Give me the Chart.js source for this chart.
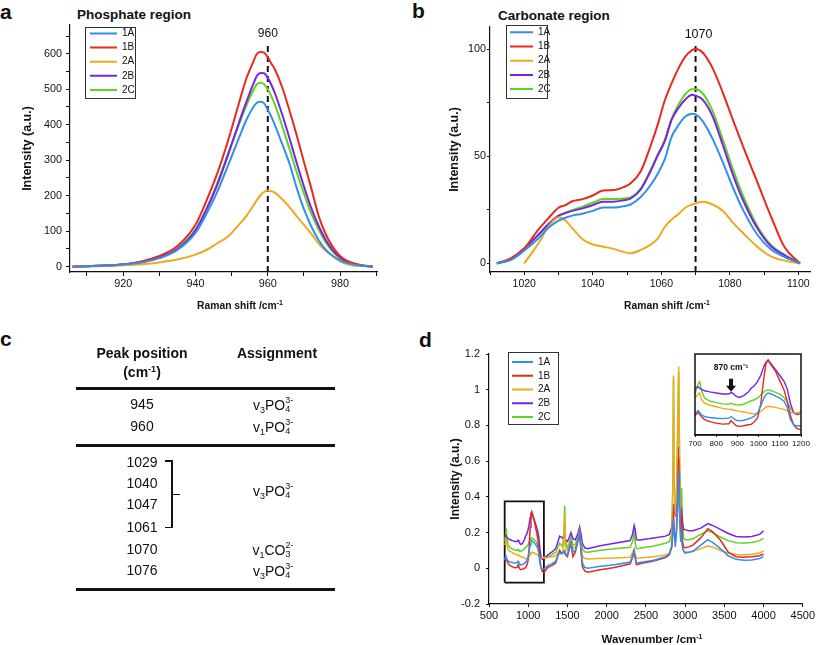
<!DOCTYPE html>
<html>
<head>
<meta charset="utf-8">
<script src="https://cdn.jsdelivr.net/npm/chart.js"></script>
<style>
  body { margin: 0; background: #fff; font-family: 'Liberation Sans', Arial, sans-serif; color: #111; }
  #page { position: relative; width: 817px; height: 645px; overflow: hidden; }
  .cbox { position: absolute; }
  .letter { position: absolute; font-weight: bold; font-size: 21px; line-height: 1; }
  .ptitle { position: absolute; font-weight: bold; font-size: 13.5px; line-height: 1; white-space: nowrap; }
  .xt { position: absolute; transform: translate(-50%, -50%); font-weight: bold; font-size: 10.3px; line-height: 1; white-space: nowrap; }
  .xt sup { font-size: 7px; vertical-align: 4px; }
  .tc { position: absolute; transform: translate(-50%, -50%); font-size: 14px; line-height: 1; white-space: nowrap; }
  .th { font-weight: bold; }
  .th sup { font-size: 9px; vertical-align: 5px; }
  .rule { position: absolute; left: 76px; width: 259px; height: 3px; background: #111; }
  .brk { position: absolute; background: #111; }
  .sb { font-size: 9px; position: relative; top: 3px; }
  .ss { display: inline-block; position: relative; width: 10px; height: 14px; }
  .ss .up { position: absolute; left: 0; top: 0px; font-size: 9px; line-height: 1; }
  .ss .dn { position: absolute; left: 0; top: 9px; font-size: 9px; line-height: 1; }
</style>
</head>
<body>
<div id="page">
  <div class="letter" style="left:0;top:1px">a</div>
  <div class="ptitle" style="left:77px;top:8px">Phosphate region</div>
  <div class="cbox" style="left:0;top:0;width:405px;height:315px"><canvas id="chartA"></canvas></div>
  <div class="xt" style="left:240px;top:305px">Raman shift /cm<sup>-1</sup></div>

  <div class="letter" style="left:412px;top:0">b</div>
  <div class="ptitle" style="left:498px;top:9px">Carbonate region</div>
  <div class="cbox" style="left:410px;top:0;width:407px;height:315px"><canvas id="chartB"></canvas></div>
  <div class="xt" style="left:667px;top:305px">Raman shift /cm<sup>-1</sup></div>

  <div class="letter" style="left:0;top:328px">c</div>
  <div id="tableC"></div>

  <div class="letter" style="left:419px;top:329px">d</div>
  <div class="cbox" style="left:410px;top:320px;width:407px;height:325px"><canvas id="chartD"></canvas></div>
  <div class="cbox" style="left:685px;top:350px;width:127px;height:100px"><canvas id="chartInset"></canvas></div>
  <div class="xt" style="left:652px;top:639px;font-size:11.5px">Wavenumber /cm<sup>-1</sup></div>
</div>

<script>
Chart.defaults.font.family = "'Liberation Sans', Arial, sans-serif";
Chart.defaults.color = '#111';
Chart.defaults.animation = false;

const seriesNames = ['1A', '1B', '2A', '2B', '2C'];
const seriesColors = ['#2f8ff0', '#e8291c', '#f2a81c', '#7a22e6', '#5fd41f'];

// a - phosphate region
const phosShift = [906, 910, 915, 920, 925, 930, 935, 940, 943, 946, 949, 952, 954, 956, 957, 958, 959, 960, 961, 962, 964, 966, 968, 970, 972, 974, 976, 978, 980, 982, 985, 989];
const phos1A = [0, 1, 3, 6, 12, 24, 47, 95, 148, 210, 285, 362, 412, 450, 462, 465, 460, 442, 422, 398, 345, 290, 222, 162, 114, 76, 48, 30, 18, 10, 4, 0];
const phos1B = [0, 1, 3, 7, 15, 30, 58, 118, 185, 262, 355, 460, 528, 578, 600, 605, 603, 590, 572, 555, 505, 440, 370, 295, 222, 145, 92, 55, 30, 16, 6, 0];
const phos2A = [0, 1, 2, 4, 7, 12, 20, 34, 47, 66, 85, 118, 142, 172, 188, 202, 211, 215, 213, 208, 190, 168, 142, 118, 93, 66, 45, 29, 15, 7, 1, null];
const phos2B = [0, 1, 3, 6, 13, 26, 50, 102, 160, 230, 315, 405, 462, 515, 538, 546, 545, 532, 512, 488, 428, 362, 292, 226, 166, 116, 76, 46, 26, 14, 5, 0];
const phos2C = [0, 1, 3, 6, 13, 26, 51, 105, 163, 235, 318, 400, 452, 497, 514, 518, 514, 500, 480, 456, 396, 332, 266, 206, 151, 106, 69, 42, 24, 13, 4, 0];
const phosPeak = 960;

// b - carbonate region
const carbShift = [1012, 1016, 1020, 1024, 1027, 1030, 1032, 1034, 1037, 1040, 1043, 1046, 1049, 1051, 1054, 1057, 1059, 1061, 1063, 1065, 1067, 1069, 1070, 1072, 1075, 1078, 1081, 1084, 1088, 1092, 1096, 1100.5];
const carb1A = [0, 1.5, 6, 11.5, 16.5, 20, 21.3, 22.3, 23.2, 24.5, 26.1, 26.1, 26.7, 27.5, 31, 36.8, 42, 48.5, 59, 64.5, 68.5, 69.8, 69.5, 66.5, 58, 47, 35, 24.5, 13.5, 6.5, 3, 0];
const carb1B = [0, 2.3, 7, 15.5, 21, 26, 27.2, 29, 30, 31.7, 34, 34.2, 35.6, 37.3, 43, 55.5, 65, 76, 84, 91, 96.5, 99.5, 100, 98.5, 91, 79.5, 66.5, 54, 38, 22, 7.5, 0];
const carb2A = [null, null, 0, 9, 17, 21.5, 20, 16.5, 11.3, 8.8, 7.8, 6.8, 5.4, 4.7, 6.3, 8.9, 11.7, 17, 20.5, 23, 26, 27.5, 28, 28.8, 27.5, 24.5, 18.8, 14, 7.8, 3.3, 1.3, 0];
const carb2B = [0, 1.9, 7, 13.2, 18.3, 22.3, 23.5, 24.5, 25.7, 27.2, 28.8, 28.8, 29.5, 30.2, 34.5, 43.5, 50.5, 57, 67, 72.5, 76.5, 78.7, 78.3, 76.5, 68.5, 55, 41, 29, 16.5, 8, 3.8, 0];
const carb2C = [0, 1.9, 6.8, 13, 18, 22, 23.6, 24.8, 26.5, 28.3, 30, 30, 30.3, 30.8, 35, 44, 51, 57.5, 67.5, 74, 79, 81.3, 81.3, 79.5, 71, 57.5, 43.5, 31, 17.5, 8.6, 4, 0];
const carbPeak = 1070;

// c - peak assignment table
const tablePeaks = ['945', '960', '1029', '1040', '1047', '1061', '1070', '1076'];
const tableModes = [['3', 'PO', '4', '3-'], ['1', 'PO', '4', '3-'], ['3', 'PO', '4', '3-'], ['1', 'CO', '3', '2-'], ['3', 'PO', '4', '3-']];

// d - full spectra
const waveNum = [700, 715, 722, 730, 745, 770, 800, 830, 860, 870, 880, 895, 910, 930, 950, 965, 980, 995, 1010, 1025, 1035, 1045, 1060, 1080, 1100, 1120, 1135, 1150, 1165, 1180, 1200,
  1250, 1300, 1350, 1380, 1400, 1420, 1440, 1455, 1465, 1475, 1500, 1520, 1545, 1570, 1600, 1630, 1655, 1670, 1690, 1720,
  1760, 1900, 2100, 2300, 2330, 2350, 2362, 2380, 2420, 2600, 2750, 2800, 2830, 2845, 2852, 2860, 2875, 2890, 2905, 2918,
  2930, 2945, 2955, 2965, 2980, 3000, 3050, 3100, 3200, 3290, 3350, 3450, 3550, 3650, 3750, 3850, 3950, 4000];
const spec1A = [0.05, 0.07, 0.06, 0.05, 0.04, 0.035, 0.032, 0.03, 0.032, 0.04, 0.033, 0.022, 0.019, 0.022, 0.028, 0.033, 0.042, 0.058, 0.09, 0.13, 0.148, 0.155, 0.15, 0.14, 0.13, 0.115, 0.085, 0.025, 0.0, -0.006, -0.005,
  0.015, 0.025, 0.04, 0.075, 0.085, 0.08, 0.085, 0.095, 0.1, 0.08, 0.075, 0.11, 0.145, 0.09, 0.1, 0.15, 0.2, 0.12, 0.03, 0.005,
  0.0, 0.01, 0.02, 0.035, 0.07, 0.098, 0.07, 0.03, 0.032, 0.045, 0.065, 0.08, 0.13, 0.2, 0.28, 0.22, 0.12, 0.2, 0.35, 0.55,
  0.3, 0.15, 0.18, 0.12, 0.095, 0.085, 0.09, 0.095, 0.13, 0.16, 0.145, 0.11, 0.07, 0.05, 0.045, 0.047, 0.055, 0.065];
const spec1B = [0.045, 0.06, 0.05, 0.04, 0.025, 0.015, 0.008, 0.003, 0.005, 0.02, 0.01, -0.005, -0.008, -0.005, 0.0, 0.002, 0.015, 0.035, 0.1, 0.23, 0.3, 0.315, 0.29, 0.26, 0.215, 0.17, 0.115, 0.045, 0.0, -0.018, -0.025,
  0.005, 0.015, 0.03, 0.07, 0.1, 0.085, 0.085, 0.09, 0.095, 0.075, 0.065, 0.1, 0.14, 0.065, 0.09, 0.145, 0.195, 0.11, 0.01, -0.015,
  -0.022, -0.01, 0.005, 0.025, 0.06, 0.092, 0.06, 0.02, 0.025, 0.04, 0.06, 0.075, 0.12, 0.2, 0.32, 0.22, 0.14, 0.22, 0.4, 0.62,
  0.32, 0.15, 0.3, 0.16, 0.12, 0.115, 0.12, 0.13, 0.17, 0.222, 0.205, 0.158, 0.09, 0.065, 0.062, 0.064, 0.07, 0.08];
const spec2A = [0.13, 0.15, 0.155, 0.125, 0.105, 0.095, 0.088, 0.08, 0.075, 0.076, 0.072, 0.068, 0.065, 0.062, 0.058, 0.055, 0.052, 0.055, 0.065, 0.078, 0.086, 0.09, 0.088, 0.085, 0.08, 0.075, 0.068, 0.06, 0.057, 0.057, 0.058,
  0.06, 0.065, 0.07, 0.085, 0.1, 0.09, 0.085, 0.15, 0.3, 0.12, 0.1, 0.12, 0.155, 0.11, 0.12, 0.16, 0.21, 0.15, 0.07, 0.055,
  0.052, 0.055, 0.058, 0.062, 0.09, 0.11, 0.08, 0.056, 0.057, 0.065, 0.075, 0.085, 0.12, 0.5, 1.08, 0.5, 0.3, 0.38, 0.8, 1.13,
  0.55, 0.2, 0.18, 0.13, 0.1, 0.092, 0.09, 0.095, 0.11, 0.125, 0.12, 0.1, 0.085, 0.077, 0.076, 0.078, 0.085, 0.098];
const spec2B = [0.178, 0.185, 0.178, 0.172, 0.166, 0.16, 0.155, 0.15, 0.15, 0.158, 0.152, 0.138, 0.133, 0.142, 0.158, 0.178, 0.19, 0.21, 0.24, 0.285, 0.305, 0.315, 0.295, 0.268, 0.24, 0.212, 0.175, 0.105, 0.058, 0.05, 0.055,
  0.075, 0.09, 0.11, 0.15, 0.18, 0.175, 0.17, 0.18, 0.175, 0.16, 0.15, 0.17, 0.2, 0.165, 0.16, 0.19, 0.23, 0.2, 0.14, 0.115,
  0.11, 0.125, 0.14, 0.155, 0.19, 0.24, 0.22, 0.16, 0.158, 0.17, 0.18, 0.19, 0.23, 0.3, 0.36, 0.32, 0.3, 0.33, 0.45, 0.68,
  0.45, 0.3, 0.32, 0.26, 0.22, 0.215, 0.21, 0.21, 0.225, 0.25, 0.24, 0.218, 0.195, 0.178, 0.175, 0.178, 0.19, 0.21];
const spec2C = [0.15, 0.2, 0.21, 0.17, 0.13, 0.115, 0.108, 0.102, 0.1, 0.106, 0.1, 0.097, 0.096, 0.1, 0.11, 0.117, 0.122, 0.13, 0.145, 0.16, 0.168, 0.17, 0.166, 0.158, 0.15, 0.132, 0.11, 0.08, 0.06, 0.058, 0.063,
  0.065, 0.075, 0.09, 0.12, 0.14, 0.13, 0.12, 0.2, 0.35, 0.15, 0.115, 0.14, 0.175, 0.13, 0.135, 0.17, 0.225, 0.17, 0.11, 0.092,
  0.09, 0.1, 0.11, 0.118, 0.15, 0.2, 0.15, 0.11, 0.112, 0.125, 0.14, 0.15, 0.2, 0.5, 1.06, 0.5, 0.32, 0.4, 0.75, 1.1,
  0.6, 0.35, 0.45, 0.3, 0.17, 0.16, 0.16, 0.165, 0.19, 0.21, 0.2, 0.175, 0.155, 0.143, 0.142, 0.145, 0.155, 0.168];
const zoomRange = [700, 1200, -0.08, 0.375];
const carbonateBand = 870;

// ---------- helpers ----------
function seriesSets(xs, ys, width, smooth) {
  return ys.map((vals, i) => ({
    label: seriesNames[i],
    data: xs.map((x, j) => ({ x: x, y: vals[j] })),
    borderColor: seriesColors[i],
    backgroundColor: seriesColors[i],
    borderWidth: width,
    pointRadius: 0,
    cubicInterpolationMode: smooth ? 'monotone' : 'default',
    tension: 0
  }));
}

function guideSet(points, width, dash) {
  return { label: 'guide', data: points, borderColor: '#111', backgroundColor: '#111',
           borderWidth: width, borderDash: dash || [], pointRadius: 0, tension: 0 };
}

function axis(o) {
  return {
    type: 'linear',
    display: o.display !== false,
    position: o.pos,
    min: o.min, max: o.max,
    border: { display: true, color: '#111', width: 1.2 },
    grid: { display: true, drawOnChartArea: false, drawTicks: true, tickLength: o.tick, tickColor: '#111', tickWidth: 1 },
    ticks: {
      stepSize: o.step, includeBounds: false, autoSkip: false, maxRotation: 0, minRotation: 0,
      padding: o.pad, font: { size: o.fs }, color: '#111',
      callback: o.label
    },
    title: o.title ? { display: true, text: o.title, font: { size: o.tfs, weight: 'bold' }, color: '#111', padding: { top: o.tpad, bottom: 0 } } : { display: false },
    afterFit: s => { if (o.pos === 'bottom') s.height = o.size; else s.width = o.size; }
  };
}

function legendOpts(lineW, lp) {
  return {
    display: true,
    position: 'chartArea',
    align: 'start',
    labels: {
      usePointStyle: true, pointStyle: 'line', pointStyleWidth: lineW,
      padding: lp, color: '#111', font: { size: 10 },
      filter: item => item.datasetIndex < seriesNames.length,
      generateLabels: chart => Chart.defaults.plugins.legend.labels.generateLabels(chart)
        .map(l => Object.assign(l, { lineWidth: 2 }))
    }
  };
}

// legend placed inside the plot with a thin frame around it
const legendFrame = {
  id: 'legendFrame',
  afterLayout(chart, args, o) {
    const lg = chart.legend;
    if (!lg || o.dx === undefined) return;
    const ca = chart.chartArea;
    const lp = lg.options.labels.padding;
    lg.left = ca.left + o.dx + o.ix - lp;
    lg.top = ca.top + o.dy + o.iy - lp;
    lg.right = ca.right;
    lg.bottom = ca.bottom;
  },
  afterDraw(chart, args, o) {
    if (o.dx === undefined) return;
    const ca = chart.chartArea, ctx = chart.ctx;
    ctx.save();
    ctx.strokeStyle = '#333';
    ctx.lineWidth = 1;
    ctx.strokeRect(Math.round(ca.left + o.dx) + 0.5, Math.round(ca.top + o.dy) + 0.5, o.w, o.h);
    ctx.restore();
  }
};

// text labels (and optional down arrow) anchored at data values
const markText = {
  id: 'markText',
  afterDatasetsDraw(chart, args, o) {
    if (!o.items) return;
    const ctx = chart.ctx, xs = chart.scales.x, ys = chart.scales.y;
    o.items.forEach(m => {
      const px = xs.getPixelForValue(m.x);
      ctx.save();
      ctx.fillStyle = '#111';
      ctx.font = m.font;
      ctx.textAlign = 'center';
      ctx.textBaseline = 'middle';
      ctx.fillText(m.text, px + (m.dx || 0), ys.getPixelForValue(m.y));
      if (m.arrow) {
        const y0 = ys.getPixelForValue(m.arrow[0]), y1 = ys.getPixelForValue(m.arrow[1]);
        const hh = 6, hw = 5, sw = 2;
        ctx.beginPath();
        ctx.moveTo(px - sw, y0); ctx.lineTo(px + sw, y0); ctx.lineTo(px + sw, y1 - hh);
        ctx.lineTo(px + hw, y1 - hh); ctx.lineTo(px, y1); ctx.lineTo(px - hw, y1 - hh);
        ctx.lineTo(px - sw, y1 - hh); ctx.closePath(); ctx.fill();
      }
      ctx.restore();
    });
  }
};

const chartFrame = {
  id: 'chartFrame',
  afterDraw(chart, args, o) {
    if (!o.on) return;
    const ca = chart.chartArea, ctx = chart.ctx;
    ctx.save();
    ctx.strokeStyle = '#111';
    ctx.lineWidth = 1.5;
    ctx.strokeRect(ca.left, ca.top, ca.right - ca.left, ca.bottom - ca.top);
    ctx.restore();
  }
};

Chart.register(legendFrame, markText, chartFrame);

// ---------- a ----------
new Chart(document.getElementById('chartA'), {
  type: 'line',
  data: {
    datasets: seriesSets(phosShift, [phos1A, phos1B, phos2A, phos2B, phos2C], 2, true)
      .concat([guideSet([{ x: phosPeak, y: -15 }, { x: phosPeak, y: 628 }], 2, [6, 4])])
  },
  options: {
    responsive: true, maintainAspectRatio: false,
    layout: { padding: { left: 0, top: 25, right: 28, bottom: 0 } },
    scales: {
      x: axis({ pos: 'bottom', min: 905.3, max: 990.2, step: 10, tick: 4, pad: 2, fs: 10.8, size: 43,
                label: v => (v % 20 === 0 ? v : '') }),
      y: axis({ pos: 'left', min: -15, max: 681, step: 50, tick: 4, pad: 4, fs: 10.8, size: 70,
                title: 'Intensity (a.u.)', tfs: 12.5, tpad: 20, label: v => (v % 100 === 0 ? v : '') })
    },
    plugins: {
      legend: legendOpts(27, 4.1),
      tooltip: { enabled: false },
      legendFrame: { dx: 15, dy: 2, ix: 5, iy: 1.5, w: 50, h: 71 },
      markText: { items: [{ x: phosPeak, y: 656, text: String(phosPeak), font: "12px 'Liberation Sans', Arial, sans-serif" }] }
    }
  }
});

// ---------- b ----------
new Chart(document.getElementById('chartB'), {
  type: 'line',
  data: {
    datasets: seriesSets(carbShift, [carb1A, carb1B, carb2A, carb2B, carb2C], 2, true)
      .concat([guideSet([{ x: carbPeak, y: -4 }, { x: carbPeak, y: 103.3 }], 2, [6, 4])])
  },
  options: {
    responsive: true, maintainAspectRatio: false,
    layout: { padding: { left: 0, top: 27, right: 7, bottom: 0 } },
    scales: {
      x: axis({ pos: 'bottom', min: 1010, max: 1103.4, step: 10, tick: 3, pad: 3, fs: 10.5, size: 43,
                label: v => (v % 20 === 0 ? v : '') }),
      y: axis({ pos: 'left', min: -4, max: 110.3, step: 25, tick: 3, pad: 1, fs: 10.8, size: 80,
                title: 'Intensity (a.u.)', tfs: 12.5, tpad: 37.5, label: v => (v % 50 === 0 ? v : '') })
    },
    plugins: {
      legend: legendOpts(23, 4.2),
      tooltip: { enabled: false },
      legendFrame: { dx: 16, dy: -2, ix: 4, iy: 2.3, w: 41, h: 73 },
      markText: { items: [{ x: carbPeak, y: 107, dx: 3, text: String(carbPeak), font: "12.5px 'Liberation Sans', Arial, sans-serif" }] }
    }
  }
});

// ---------- c ----------
(function buildTable() {
  const root = document.getElementById('tableC');
  const peakY = [404, 426, 462, 483, 504, 527, 549, 570];
  const modeY = [404, 426, 490, 549, 570];
  let html = '';
  html += '<div class="tc th" style="left:142px;top:353px">Peak position</div>';
  html += '<div class="tc th" style="left:142px;top:372px">(cm<sup>-1</sup>)</div>';
  html += '<div class="tc th" style="left:277px;top:353px">Assignment</div>';
  [387, 444, 588].forEach(y => { html += '<div class="rule" style="top:' + y + 'px"></div>'; });
  tablePeaks.forEach((p, i) => {
    html += '<div class="tc" style="left:142px;top:' + peakY[i] + 'px">' + p + '</div>';
  });
  tableModes.forEach((m, i) => {
    html += '<div class="tc" style="left:274px;top:' + modeY[i] + 'px">v<span class="sb">' + m[0] + '</span>' + m[1] +
            '<span class="ss"><span class="up">' + m[3] + '</span><span class="dn">' + m[2] + '</span></span></div>';
  });
  // bracket grouping 1029-1061
  html += '<div class="brk" style="left:171px;top:460px;width:1.6px;height:68px"></div>';
  html += '<div class="brk" style="left:165px;top:460px;width:7px;height:1.6px"></div>';
  html += '<div class="brk" style="left:165px;top:526.5px;width:7px;height:1.6px"></div>';
  html += '<div class="brk" style="left:172px;top:493.5px;width:8px;height:1.6px"></div>';
  root.innerHTML = html;
})();

// ---------- d ----------
const specSeries = [spec1A, spec1B, spec2A, spec2B, spec2C];
const boxPts = [
  { x: zoomRange[0], y: zoomRange[2] }, { x: zoomRange[1], y: zoomRange[2] },
  { x: zoomRange[1], y: zoomRange[3] }, { x: zoomRange[0], y: zoomRange[3] },
  { x: zoomRange[0], y: zoomRange[2] }
];

new Chart(document.getElementById('chartD'), {
  type: 'line',
  data: { datasets: seriesSets(waveNum, specSeries, 1.5, false).concat([guideSet(boxPts, 1.8)]) },
  options: {
    responsive: true, maintainAspectRatio: false,
    layout: { padding: { left: 0, top: 34, right: 14, bottom: 0 } },
    scales: {
      x: axis({ pos: 'bottom', min: 500, max: 4500, step: 500, tick: 3, pad: 2, fs: 11, size: 41,
                label: v => v }),
      y: axis({ pos: 'left', min: -0.2, max: 1.2, step: 0.2, tick: 3, pad: 6, fs: 11, size: 79,
                title: 'Intensity (a.u.)', tfs: 12, tpad: 38, label: v => String(Number(v.toFixed(1))) })
    },
    plugins: {
      legend: legendOpts(21, 3.75),
      tooltip: { enabled: false },
      legendFrame: { dx: 19, dy: -2, ix: 4, iy: 5, w: 50, h: 72 }
    }
  }
});

new Chart(document.getElementById('chartInset'), {
  type: 'line',
  data: { datasets: seriesSets(waveNum, specSeries, 1.4, false) },
  options: {
    responsive: true, maintainAspectRatio: false,
    layout: { padding: { left: 10, top: 4, right: 11, bottom: 0 } },
    scales: {
      x: axis({ pos: 'bottom', min: zoomRange[0], max: zoomRange[1], step: 100, tick: 2, pad: 2, fs: 8, size: 15,
                label: v => v }),
      y: axis({ pos: 'left', display: false, min: -0.05, max: 0.345, step: 0.1, tick: 0, pad: 0, fs: 8, size: 0 })
    },
    plugins: {
      legend: { display: false },
      tooltip: { enabled: false },
      chartFrame: { on: true },
      markText: { items: [{ x: carbonateBand, y: 0.277, text: carbonateBand + ' cm\u207B\u00B9',
                            font: "bold 8.5px 'Liberation Sans', Arial, sans-serif", arrow: [0.224, 0.161] }] }
    }
  }
});
</script>
</body>
</html>
